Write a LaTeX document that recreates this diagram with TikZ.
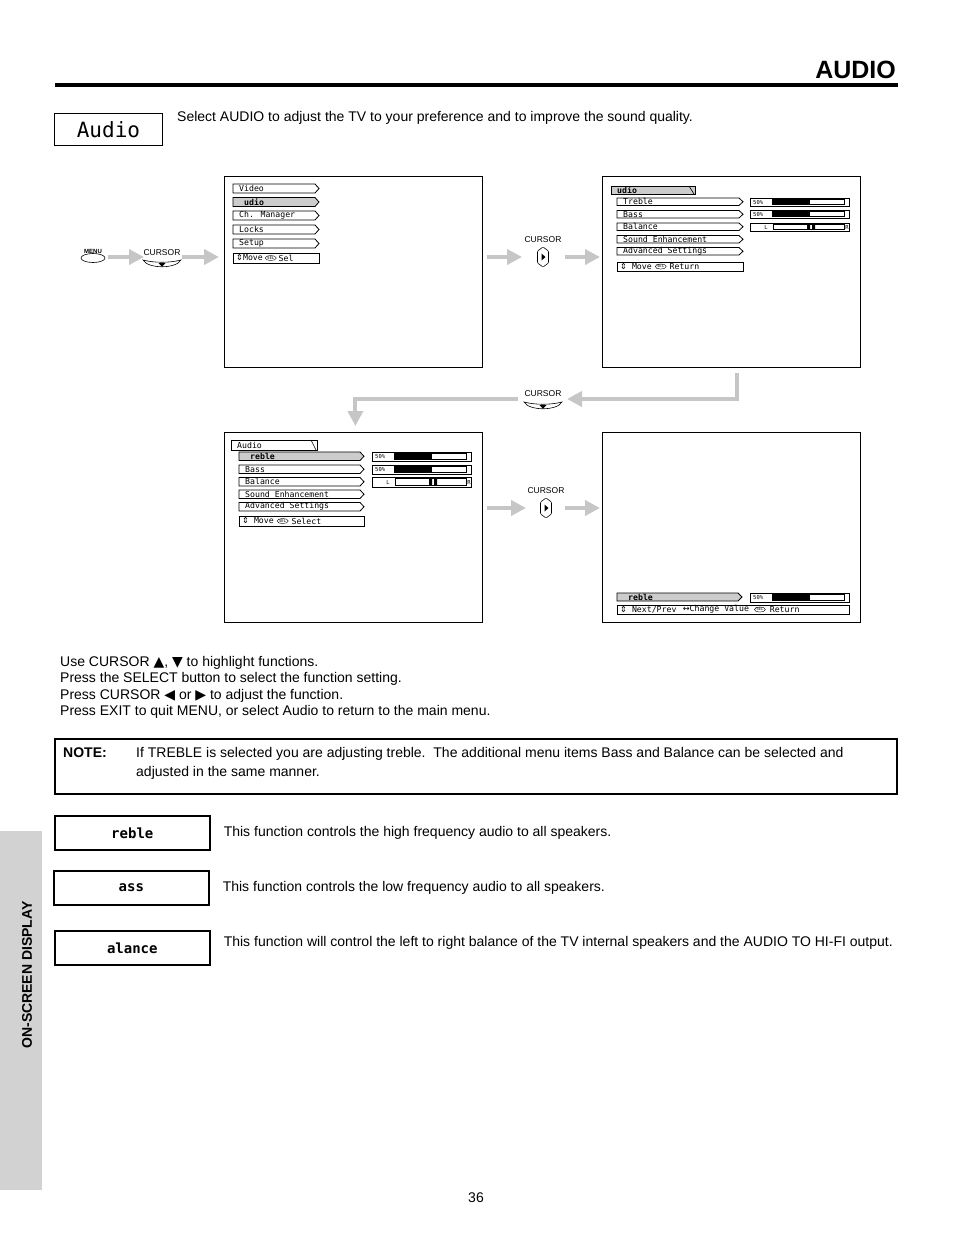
\documentclass[tikz,border=0pt]{standalone}
\usepackage{fontspec}
\setmainfont{Liberation Sans}
\newfontfamily\menufont{DejaVu Sans Mono}
\newfontfamily\symfont{DejaVu Sans}
\usetikzlibrary{arrows.meta,positioning,calc,shapes.geometric}

\tikzset{
  screen/.style={draw,line width=0.8pt,anchor=north west,inner sep=0pt},
  item/.style={draw,line width=0.8pt},
  mtext/.style={anchor=west,inner sep=0pt,font=\menufont\fontsize{8.2}{8}\selectfont},
  tiny/.style={inner sep=0pt,font=\menufont\fontsize{5.5}{6}\selectfont},
  selk/.style={draw,ellipse,line width=0.4pt,inner sep=0.3pt,font=\menufont\fontsize{4}{4}\selectfont},
  garrow/.style={draw=gray!45,line width=4pt,-{Triangle[length=15pt,width=15pt]}},
  keyd/.style={draw,line width=0.6pt,fill=white},
  klabel/.style={inner sep=0pt,font=\fontsize{8.5}{9}\selectfont},
  body/.style={anchor=west,inner sep=0pt,font=\fontsize{14}{16.4}\selectfont},
  fbox/.style={draw,line width=1.6pt,anchor=north west,minimum width=155,minimum height=34,
    font=\menufont\bfseries\fontsize{14}{14}\selectfont},
}

% menu line with arrow end: [fill]{name}{x1}{y1}{x2}{y2}{text}
\newcommand\mitem[7][white]{%
  \filldraw[item,fill=#1] (#3,#4) -- ({#5-4},#4) -- (#5,{(#4+#6)/2}) -- ({#5-4},#6) -- (#3,#6) -- cycle;
  \node[mtext] (#2) at ({#3+6},{(#4+#6)/2}) {#7};}
% title tab of a sub menu
\newcommand\mtab[7][white]{%
  \filldraw[item,fill=#1] (#3,#4) rectangle (#5,#6);
  \draw[line width=0.6pt] ({#5-6},#4) -- ({#5-1},#6);
  \node[mtext] (#2) at ({#3+6},{(#4+#6)/2}) {#7};}
% level bar {name}{x}{y1}{y2}
\newcommand\lvlbar[4]{%
  \draw[item] (#2,#3) rectangle ({#2+99},#4);
  \node[tiny,anchor=west] (#1) at ({#2+3},{(#3+#4)/2}) {50\%};
  \draw[line width=0.6pt] ({#2+22},{#3+1.5}) rectangle ({#2+94},{#4-1.5});
  \fill ({#2+22},{#3+1.5}) rectangle ({#2+60},{#4-1.5});}
\newcommand\balbar[4]{%
  \draw[item] (#2,#3) rectangle ({#2+99},#4);
  \node[tiny] (#1) at ({#2+16},{(#3+#4)/2}) {L};
  \draw[line width=0.6pt] ({#2+23},{#3+1.5}) rectangle ({#2+94},{#4-1.5});
  \fill ({#2+57},{#3+1.5}) rectangle ({#2+60},{#4-1.5}) ({#2+62},{#3+1.5}) rectangle ({#2+65},{#4-1.5});
  \node[tiny] (#1-r) at ({#2+97},{(#3+#4)/2}) {R};}

\begin{document}
\begin{tikzpicture}[x=1pt,y=-1pt]
  \useasboundingbox (0,0) rectangle (954,1235);
  % header
  \node[anchor=base east,inner sep=0pt,font=\bfseries\fontsize{25}{25}\selectfont] (title) at (896,78) {AUDIO};
  \draw[line width=4.5pt] (55,85) -- (898,85);
  \node[draw,line width=0.9pt,anchor=north west,minimum width=108,minimum height=32,inner sep=0pt,
    font=\menufont\fontsize{21}{21}\selectfont] (abox) at (54,113) {Audio};
  \node[body] (intro) at (177,118) {Select AUDIO to adjust the TV to your preference and to improve the sound quality.};

  % screens
  \node[screen,minimum width=258,minimum height=191] (s1) at (224,176) {};
  \node[screen,minimum width=258,minimum height=191] (s2) at (602,176) {};
  \node[screen,minimum width=258,minimum height=190] (s3) at (224,432) {};
  \node[screen,minimum width=258,minimum height=190] (s4) at (602,432) {};

  % screen 1: main menu
  \foreach \t/\y/\f [count=\i] in {Video/184/white,{\hspace{5pt}\bfseries udio}/197.5/gray!40,
      Ch. Manager/211/white,Locks/225/white,Setup/239/white}
    \mitem[\f]{m1\i}{233}{\y}{319}{\y+9}{\t};
  \draw[item] (233,253) rectangle (319,263);
  \node[mtext] (h1a) at (236,258) {{\symfont ⇕}Move};
  \node[selk,right=2pt of h1a] (h1b) {SEL};
  \node[mtext,right=2pt of h1b] (h1c) {Sel};

  % screen 2: audio menu
  \mtab[gray!40]{t2}{611}{186}{695}{194}{\bfseries udio};
  \foreach \t/\y [count=\i] in {Treble/198,Bass/210.5,Balance/223,Sound Enhancement/235.5,Advanced Settings/247.5}
    \mitem{m2\i}{617}{\y}{743}{\y+7.5}{\t};
  \draw[item] (617,262) rectangle (743,271);
  \node[mtext] (h2a) at (620,266.5) {{\symfont ⇕} Move};
  \node[selk,right=3pt of h2a] (h2b) {SEL};
  \node[mtext,right=3pt of h2b] (h2c) {Return};
  \lvlbar{b21}{750}{198}{206}
  \lvlbar{b22}{750}{210}{218}
  \balbar{b23}{750}{223}{231}

  % screen 3: treble selected
  \mtab{t3}{231}{440}{317}{450}{Audio};
  \foreach \t/\y/\f [count=\i] in {{\hspace{5pt}\bfseries reble}/452/gray!40,Bass/465/white,Balance/477.5/white,
      Sound Enhancement/490/white,Advanced Settings/502.5/white}
    \mitem[\f]{m3\i}{239}{\y}{364}{\y+8.5}{\t};
  \draw[item] (239,516) rectangle (364,526);
  \node[mtext] (h3a) at (242,521) {{\symfont ⇕} Move};
  \node[selk,right=3pt of h3a] (h3b) {SEL};
  \node[mtext,right=3pt of h3b] (h3c) {Select};
  \lvlbar{b31}{372}{452}{461}
  \lvlbar{b32}{372}{465}{474}
  \balbar{b33}{372}{477}{487}

  % screen 4: adjusting
  \mitem[gray!40]{m41}{617}{593}{742}{601}{\hspace{5pt}\bfseries reble};
  \lvlbar{b41}{750}{593}{602}
  \draw[item] (617,605) rectangle (849,614);
  \node[mtext] (h4a) at (620,609.5) {{\symfont ⇕} Next/Prev};
  \node[mtext,right=6pt of h4a] (h4b) {{\symfont ↔}Change Value};
  \node[selk,right=5pt of h4b] (h4c) {SEL};
  \node[mtext,right=4pt of h4c] (h4d) {Return};

  % remote keys
  \node[draw,ellipse,minimum width=24,minimum height=9,inner sep=0pt,line width=0.6pt] (menu) at (93,258) {};
  \node[inner sep=0pt,font=\bfseries\fontsize{6}{6}\selectfont] (menul) at (93,251) {MENU};
  \coordinate (k1) at (162,263);
  \coordinate (k2) at (543,257);
  \coordinate (k3) at (543,405);
  \coordinate (k4) at (546,508);
  \foreach \k in {k1,k3} {
    \draw[keyd,shift={(\k)}] (-19,-3) .. controls (-8,0) and (8,0) .. (19,-3) .. controls (14,6) and (-14,6) .. cycle;
    \fill[shift={(\k)}] (-3.5,0) -- (3.5,0) -- (0,3.5) -- cycle;
  }
  \foreach \k in {k2,k4} {
    \draw[keyd,shift={(\k)},rounded corners=1pt] (0,-10) -- (5.5,-6) -- (5.5,6) -- (0,10) -- (-5.5,6) -- (-5.5,-6) -- cycle;
    \fill[shift={(\k)}] (-1.5,-3.5) -- (2.5,0) -- (-1.5,3.5) -- cycle;
  }
  \node[klabel] (c1) at (162,253) {CURSOR};
  \node[klabel] (c2) at (543,240) {CURSOR};
  \node[klabel] (c3) at (543,394) {CURSOR};
  \node[klabel] (c4) at (546,491) {CURSOR};

  % flow arrows
  \draw[garrow] ($(menu.east)+(3,-1)$) -- ($(k1)+(-18,-6)$);
  \draw[garrow] ($(k1)+(20,-6)$) -- ($(s1.west |- k2)+(-5,0)$);
  \draw[garrow] ($(s1.east |- k2)+(4,0)$) -- ($(k2)+(-21,0)$);
  \draw[garrow] ($(k2)+(22,0)$) -- ($(s2.west |- k2)+(-2,0)$);
  \draw[garrow] ($(s2.south)+(6,5)$) |- ($(k3)+(24,-6)$);
  \draw[garrow] ($(k3)+(-25,-6)$) -| ($(s3.north)+(2,-6)$);
  \draw[garrow] ($(s3.east |- k4)+(4,0)$) -- ($(k4)+(-20,0)$);
  \draw[garrow] ($(k4)+(19,0)$) -- ($(s4.west |- k4)+(-2,0)$);

  % instructions
  \node[body,anchor=north west,align=left] (instr) at (60,656)
    {Use CURSOR {\symfont ▲}, {\symfont ▼} to highlight functions.\\
     Press the SELECT button to select the function setting.\\
     Press CURSOR {\symfont ◀} or {\symfont ▶} to adjust the function.\\
     Press EXIT to quit MENU, or select Audio to return to the main menu.};
  \node[draw,line width=1.6pt,anchor=north west,minimum width=842,minimum height=55,inner sep=0pt] (note) at (54,738) {};
  \node[body,font=\bfseries\fontsize{14}{16}\selectfont] (notel) at (63,753) {NOTE:};
  \node[body,anchor=north west,align=left,font=\fontsize{14}{19}\selectfont] (notet) at (136,747)
    {If TREBLE is selected you are adjusting treble.\ \ The additional menu items Bass and Balance can be selected and\\
     adjusted in the same manner.};

  % function boxes
  \node[fbox] (treb) at (54,815) {reble};
  \node[fbox] (bass) at (53,870) {ass};
  \node[fbox] (bal) at (54,930) {alance};
  \node[body,right=13pt of treb] (trebd) {This function controls the high frequency audio to all speakers.};
  \node[body,right=13pt of bass] (bassd) {This function controls the low frequency audio to all speakers.};
  \node[body,right=13pt of bal,yshift=5pt] (bald) {This function will control the left to right balance of the TV internal speakers and the AUDIO TO HI-FI output.};

  % side tab and page number
  \fill[gray!35] (0,831) rectangle (42,1190);
  \node[rotate=90,inner sep=0pt,font=\bfseries\fontsize{14}{14}\selectfont] (side) at (27,975) {ON-SCREEN DISPLAY};
  \node[inner sep=0pt,font=\fontsize{14}{14}\selectfont] (pg) at (476,1198) {36};
\end{tikzpicture}
\end{document}
